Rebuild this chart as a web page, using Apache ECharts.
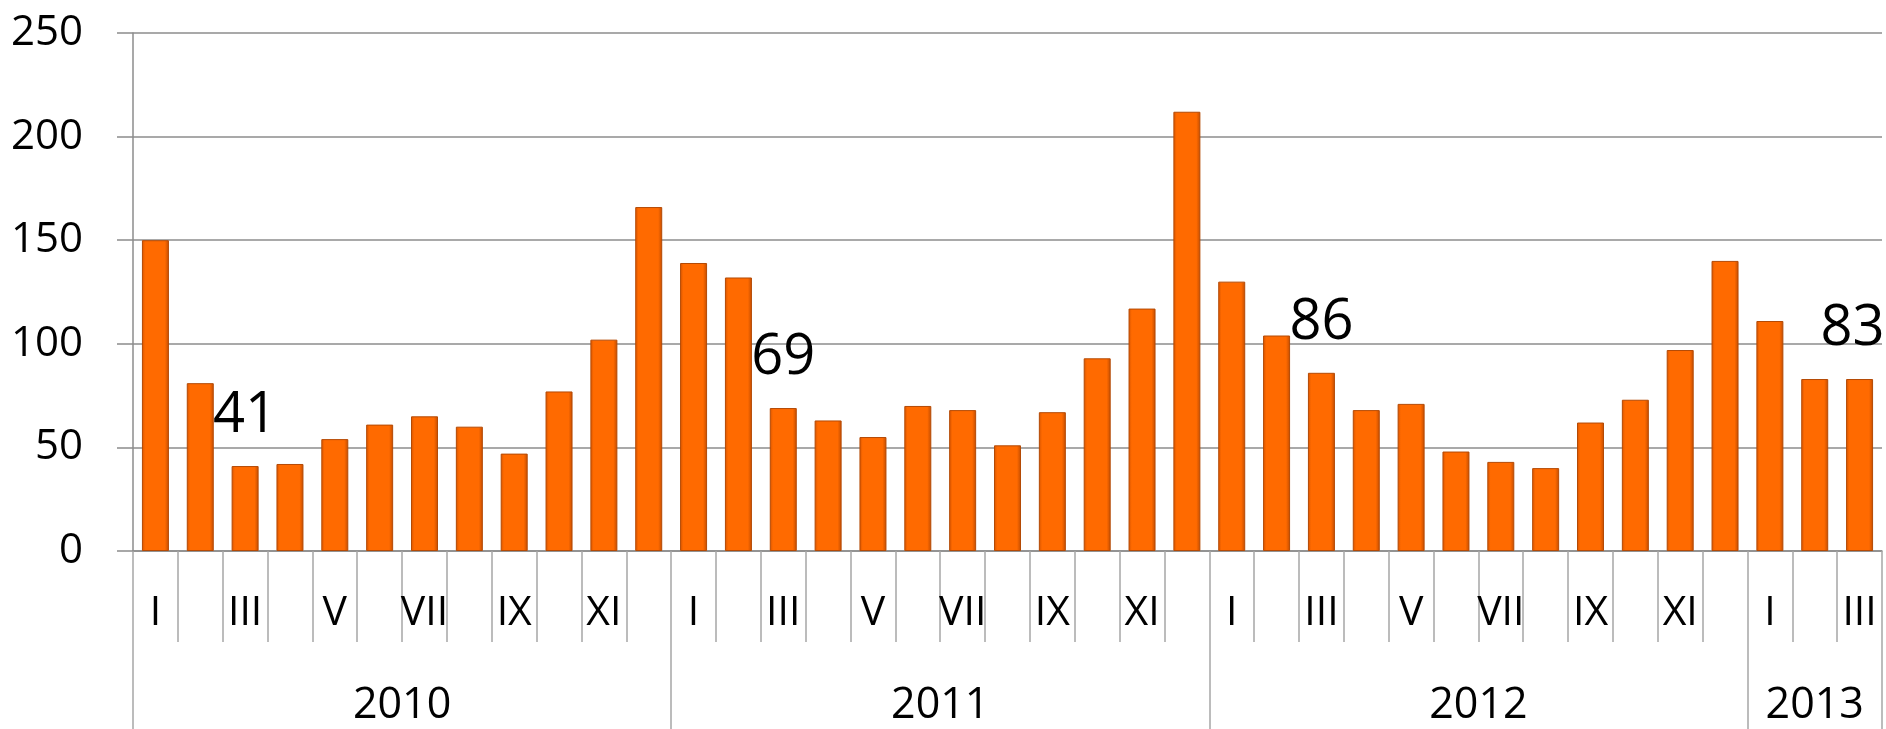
<!DOCTYPE html>
<html>
<head>
<meta charset="utf-8">
<title>Monthly values 2010-2013</title>
<script src="https://cdn.jsdelivr.net/npm/echarts@6/dist/echarts.min.js"></script>
<style>
  html, body { margin: 0; padding: 0; background: #fff; }
  #chart { width: 1886px; height: 729px; }
</style>
</head>
<body>
<div id="chart"></div>
<script>
// data
const years = ['2010', '2011', '2012', '2013']
const monthsPerYear = [12, 12, 12, 3]
const monthNames = ['I', 'II', 'III', 'IV', 'V', 'VI', 'VII', 'VIII', 'IX', 'X', 'XI', 'XII']
const values = [
  150, 81, 41, 42, 54, 61, 65, 60, 47, 77, 102, 166,
  139, 132, 69, 63, 55, 70, 68, 51, 67, 93, 117, 212,
  130, 104, 86, 68, 71, 48, 43, 40, 62, 73, 97, 140,
  111, 83, 83
]
const labeledIdx = [2, 14, 26, 38]
const yMax = 250
const yStep = 50

const FONT = 'Open Sans'
const GRID_GRAY = '#8c8c8c'

// category keys "year month", one per bar
const categories = []
years.forEach((y, i) => {
  for (let m = 0; m < monthsPerYear[i]; m++) categories.push(y + ' ' + monthNames[m])
})

// year boundaries and centres on a 0..n value scale
const bounds = [0]
monthsPerYear.forEach(n => bounds.push(bounds[bounds.length - 1] + n))
const centres = years.map((y, i) => (bounds[i] + bounds[i + 1]) / 2)

const chart = echarts.init(document.getElementById('chart'))

const barColor = new echarts.graphic.LinearGradient(0, 0, 1, 0, [
  { offset: 0, color: '#d65400' },
  { offset: 0.12, color: '#ff6a00' },
  { offset: 0.85, color: '#ff6a00' },
  { offset: 1, color: '#c24c00' }
])

const seriesData = values.map((v, i) => {
  const item = { value: v }
  if (labeledIdx.includes(i)) {
    item.label = { show: true }
    if (i === values.length - 1) item.label.offset = [-7, 0]
  }
  return item
})

chart.setOption({
  animation: false,
  grid: { left: 133, right: 4, top: 33, bottom: 178 },
  xAxis: [{
    type: 'category',
    data: categories,
    boundaryGap: true,
    axisLine: { show: true, lineStyle: { color: GRID_GRAY, width: 1.5 } },
    axisTick: { show: true, interval: 0, length: 91, lineStyle: { color: '#a6a6a6', width: 1.5 } },
    axisLabel: {
      interval: 1,
      margin: 42,
      fontFamily: FONT,
      fontSize: 41,
      color: '#000',
      formatter: v => v.split(' ')[1]
    }
  }, {
    type: 'value',
    position: 'bottom',
    min: 0,
    max: bounds[bounds.length - 1],
    axisLine: { show: false },
    splitLine: { show: false },
    axisTick: {
      show: true,
      customValues: bounds,
      length: 180,
      lineStyle: { color: '#a6a6a6', width: 1.5 }
    },
    axisLabel: {
      customValues: centres,
      margin: 133,
      fontFamily: FONT,
      fontSize: 43,
      color: '#000',
      formatter: v => years[centres.indexOf(v)]
    }
  }],
  yAxis: {
    type: 'value',
    min: 0,
    max: yMax,
    interval: yStep,
    axisLine: { show: true, lineStyle: { color: GRID_GRAY, width: 1.5 } },
    axisTick: { show: true, length: 16, lineStyle: { color: GRID_GRAY, width: 1.5 } },
    splitLine: { lineStyle: { color: GRID_GRAY, width: 1.5 } },
    axisLabel: {
      margin: 50,
      fontFamily: FONT,
      fontSize: 42,
      color: '#000'
    }
  },
  series: [{
    type: 'bar',
    xAxisIndex: 0,
    data: seriesData,
    barWidth: 27,
    itemStyle: {
      color: barColor,
      borderColor: '#b44a05',
      borderWidth: 1
    },
    label: {
      show: false,
      position: 'top',
      distance: 22,
      fontFamily: FONT,
      fontSize: 56,
      color: '#000'
    }
  }]
})

window.addEventListener('resize', () => chart.resize())
</script>
</body>
</html>
